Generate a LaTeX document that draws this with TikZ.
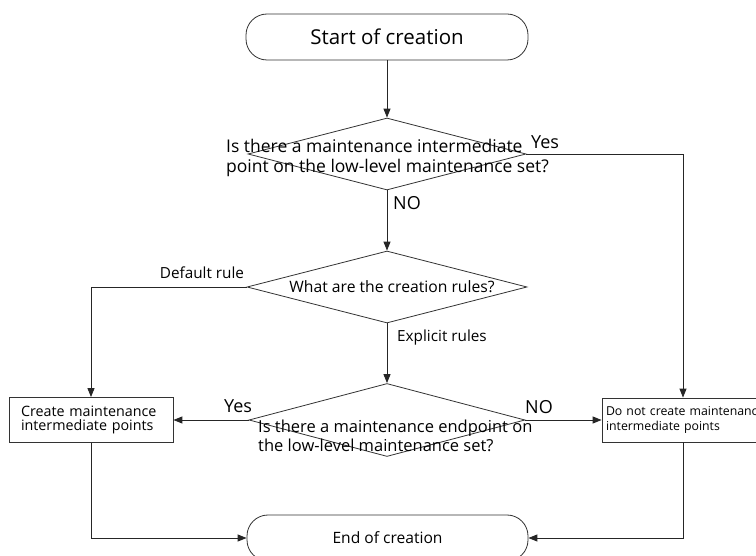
\documentclass[tikz,border=0pt]{standalone}
\usepackage{fontspec}
\setmainfont{Open Sans}
\usetikzlibrary{shapes.geometric,arrows.meta}
\begin{document}
\begin{tikzpicture}[x=1pt,y=-1pt,
  line/.style={draw=black!85, line width=0.9pt},
  arr/.style={line, -{Triangle[length=9pt,width=7pt]}},
  term/.style={draw=black!80, line width=0.8pt, rounded corners=21pt, minimum width=282pt, minimum height=46pt, inner sep=0pt},
  dec/.style={draw=black!80, shape=diamond, minimum width=278pt, minimum height=72pt, inner sep=0pt, line width=0.8pt},
  box/.style={draw=black!80, rectangle, line width=0.8pt, minimum height=45pt, align=left},
  dtext/.style={align=left, inner sep=0pt, anchor=west},
  lbl/.style={font=\fontsize{15.3}{17}\selectfont, inner sep=0pt},
  big/.style={font=\fontsize{18}{20}\selectfont, inner sep=0pt}
]
\fill[white] (0,0) rectangle (756,556);
\clip (0,0) rectangle (756,556);

\node[term, font=\fontsize{20.5}{22}\selectfont] (start) at (387,37) {Start of creation};
\node[dec] (d1) at (387,154) {};
\node[dtext, font=\fontsize{17.5}{20}\selectfont] (d1t) at (226,158) {Is there a maintenance intermediate\\point on the low-level maintenance set?};

\node[dec, minimum width=280pt] (d2) at (387,287) {};
\node[font=\fontsize{15.7}{17}\selectfont, inner sep=0pt] (d2t) at (392,287) {What are the creation rules?};

\node[dec, minimum width=276pt, minimum height=73pt] (d3) at (387,420) {};
\node[dtext, font=\fontsize{16.5}{19.5}\selectfont] (d3t) at (258,436) {Is there a maintenance endpoint on\\the low-level maintenance set?};

\node[box, minimum width=164pt, text width=140pt, inner xsep=12pt, font=\fontsize{14.3}{14}\selectfont] (box1) at (91,420) {Create maintenance\\intermediate points};
\node[box, minimum width=162pt, text width=154pt, inner xsep=4pt, minimum height=44pt, font=\fontsize{12.3}{15}\selectfont] (box2) at (683,420) {\mbox{Do not create maintenance}\\\mbox{intermediate points}};

\node[term, minimum width=281pt, font=\fontsize{15.6}{17}\selectfont] (end) at (387.5,538) {End of creation};

\draw[arr] (start) -- (d1);
\draw[arr] (d1.east) -| (box2.north);
\draw[arr] (d1.south) -- (d2.north);
\draw[arr] (d2.west) -| (box1.north);
\draw[arr] (d2.south) -- (d3.north);
\draw[arr] (d3.west) -- (box1.east);
\draw[arr] (d3.east) -- (box2.west);
\draw[arr] (box1.south) |- (end.west);
\draw[arr] (box2.south) |- (end.east);

\node[big] (yes1) at (545,142) {Yes};
\node[big] (no1) at (407,203) {NO};
\node[lbl] (defr) at (202,273) {Default rule};
\node[lbl] (expr) at (442,338) {Explicit rules};
\node[big] (yes3) at (238,406) {Yes};
\node[big] (no3) at (539,407) {NO};
\end{tikzpicture}
\end{document}
